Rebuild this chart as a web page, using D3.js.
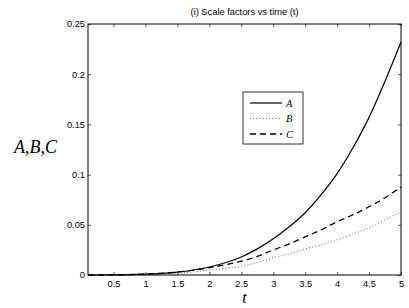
<!DOCTYPE html>
<html>
<head>
<meta charset="utf-8">
<script src="https://cdn.jsdelivr.net/npm/d3@7"></script>
<style>
  body { margin: 0; background: #fff; }
  text { fill: #000; }
</style>
</head>
<body>
<div id="chart"></div>
<script>
const width = 409, height = 308;
const margin = {top: 24, right: 8, bottom: 33, left: 88};

// time samples and the three scale factors
const tValues = [0.1, 0.25, 0.5, 0.75, 1, 1.25, 1.5, 1.75, 2, 2.25, 2.5, 2.75, 3, 3.25, 3.5, 3.75, 4, 4.25, 4.5, 4.75, 5];
const seriesA = [0, 0, 0.0001, 0.0003, 0.0008, 0.0016, 0.0029, 0.0050, 0.0080, 0.0122, 0.018, 0.026, 0.036, 0.048, 0.062, 0.080, 0.101, 0.127, 0.157, 0.193, 0.232];
const seriesB = [0, 0, 0.0001, 0.0002, 0.0005, 0.001, 0.0018, 0.003, 0.0048, 0.0065, 0.0085, 0.0125, 0.017, 0.021, 0.026, 0.030, 0.035, 0.041, 0.047, 0.055, 0.063];
const seriesC = [0, 0, 0.0001, 0.0004, 0.0009, 0.0017, 0.0030, 0.0048, 0.0073, 0.0102, 0.0137, 0.0185, 0.025, 0.031, 0.038, 0.045, 0.053, 0.060, 0.068, 0.077, 0.0876];
const seriesNames = ["A", "B", "C"];
const xTicks = [0.5, 1, 1.5, 2, 2.5, 3, 3.5, 4, 4.5, 5];
const yTicks = [0, 0.05, 0.1, 0.15, 0.2, 0.25];

const series = [
  {name: "A", values: seriesA, dash: null, color: "#000", w: 1.2},
  {name: "B", values: seriesB, dash: "1,2.2", color: "#666", w: 1},
  {name: "C", values: seriesC, dash: "6,4", color: "#000", w: 1.3}
];

const svg = d3.select("#chart").append("svg")
    .attr("width", width)
    .attr("height", height);

const x = d3.scaleLinear().domain([0.1, 5]).range([margin.left, width - margin.right]);
const y = d3.scaleLinear().domain([0, 0.25]).range([height - margin.bottom, margin.top]);

const tickFont = "'Liberation Sans', Arial, sans-serif";

// curves
const line = d3.line()
    .x((d, i) => x(tValues[i]))
    .y(d => y(d))
    .curve(d3.curveMonotoneX);

svg.append("g").selectAll("path")
    .data(series).enter()
    .append("path")
    .attr("fill", "none")
    .attr("stroke", d => d.color)
    .attr("stroke-width", d => d.w)
    .attr("stroke-dasharray", d => d.dash)
    .attr("d", d => line(d.values));

// axes: ticks inward, mirrored on top and right
const axBottom = svg.append("g")
    .attr("transform", "translate(0," + y.range()[0] + ")")
    .call(d3.axisBottom(x).tickValues(xTicks).tickSizeInner(-3).tickSizeOuter(0).tickPadding(5).tickFormat(d3.format("")));
const axTop = svg.append("g")
    .attr("transform", "translate(0," + y.range()[1] + ")")
    .call(d3.axisTop(x).tickValues(xTicks).tickSizeInner(-3).tickSizeOuter(0).tickFormat(""));
const axLeft = svg.append("g")
    .attr("transform", "translate(" + x.range()[0] + ",0)")
    .call(d3.axisLeft(y).tickValues(yTicks).tickSizeInner(-3).tickSizeOuter(0).tickPadding(3).tickFormat(d3.format("")));
const axRight = svg.append("g")
    .attr("transform", "translate(" + x.range()[1] + ",0)")
    .call(d3.axisRight(y).tickValues(yTicks).tickSizeInner(-3).tickSizeOuter(0).tickFormat(""));

[axBottom, axTop, axLeft, axRight].forEach(g => {
  g.select(".domain").remove();
  g.selectAll("line").attr("stroke", "#333").attr("stroke-width", 0.8);
  g.selectAll("text").attr("font-family", tickFont).attr("font-size", "9.3px").attr("fill", "#000");
});
axBottom.selectAll("text").attr("dy", "0.71em");

// frame
svg.append("rect")
    .attr("x", x.range()[0])
    .attr("y", y.range()[1])
    .attr("width", x.range()[1] - x.range()[0])
    .attr("height", y.range()[0] - y.range()[1])
    .attr("fill", "none")
    .attr("stroke", "#000")
    .attr("stroke-width", 1);

// title and axis labels
svg.append("text")
    .attr("x", (x.range()[0] + x.range()[1]) / 2)
    .attr("y", 15)
    .attr("text-anchor", "middle")
    .attr("font-family", tickFont)
    .attr("font-size", "9.3px")
    .text("(i) Scale factors vs time (t)");

svg.append("text")
    .attr("x", 14)
    .attr("y", 153)
    .attr("font-family", "'Liberation Serif', 'Times New Roman', serif")
    .attr("font-style", "italic")
    .attr("font-size", "18px")
    .text("A,B,C");

svg.append("text")
    .attr("x", (x.range()[0] + x.range()[1]) / 2)
    .attr("y", 303)
    .attr("text-anchor", "middle")
    .attr("font-family", "'Liberation Serif', 'Times New Roman', serif")
    .attr("font-style", "italic")
    .attr("font-size", "16px")
    .text("t");

// legend
const legend = svg.append("g").attr("transform", "translate(243,92)");
legend.append("rect")
    .attr("width", 60)
    .attr("height", 52)
    .attr("fill", "#fff")
    .attr("stroke", "#000")
    .attr("stroke-width", 0.8);

const items = legend.selectAll("g.item")
    .data(series).enter()
    .append("g")
    .attr("class", "item")
    .attr("transform", (d, i) => "translate(0," + (11 + i * 15.5) + ")");
items.append("line")
    .attr("x1", 7).attr("x2", 39)
    .attr("stroke", d => d.color)
    .attr("stroke-width", d => d.w)
    .attr("stroke-dasharray", d => d.dash);
items.append("text")
    .attr("x", 43)
    .attr("y", 3.5)
    .attr("font-family", "'Liberation Serif', 'Times New Roman', serif")
    .attr("font-style", "italic")
    .attr("font-size", "10.5px")
    .text((d, i) => seriesNames[i]);
</script>
</body>
</html>
